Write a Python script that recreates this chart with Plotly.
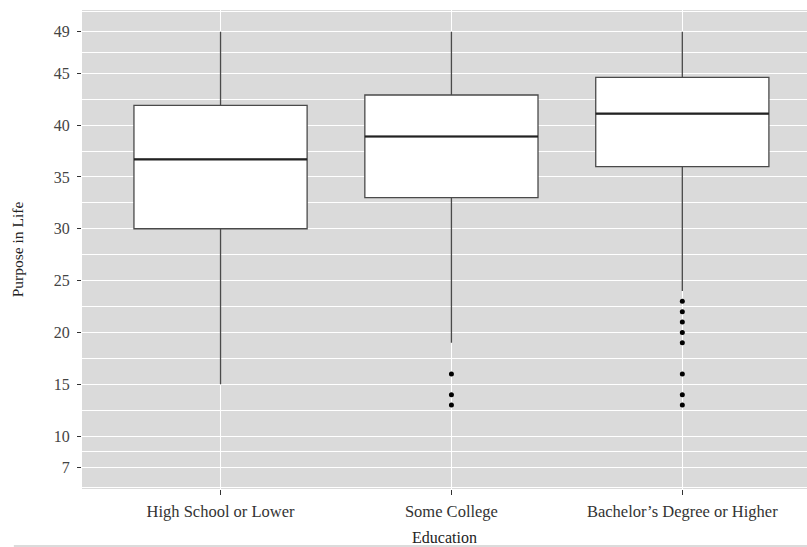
import plotly.graph_objects as go

# Summary statistics of "Purpose in Life" by education level
categories = ["High School or Lower", "Some College", "Bachelor’s Degree or Higher"]
q1 = [30, 33, 36]
median = [36.7, 38.9, 41.1]
q3 = [41.9, 42.9, 44.6]
lower_whisker = [15, 19, 24]
upper_whisker = [49, 49, 49]

# Points beyond the whiskers
outlier_cat = ["Some College"] * 3 + ["Bachelor’s Degree or Higher"] * 8
outlier_val = [16, 14, 13, 23, 22, 21, 20, 19, 16, 14, 13]

y_ticks = [7, 10, 15, 20, 25, 30, 35, 40, 45, 49]
y_minor = [5, 8.5, 12.5, 17.5, 22.5, 27.5, 32.5, 37.5, 42.5, 47, 51]

SERIF = "Liberation Serif, DejaVu Serif, serif"
BOX_LINE = "#4a4a4a"
PANEL = "#dadada"

fig = go.Figure()

fig.add_trace(go.Box(
    x=categories,
    q1=q1, median=median, q3=q3,
    lowerfence=lower_whisker, upperfence=upper_whisker,
    boxpoints=False,
    width=0.75,
    whiskerwidth=0,
    fillcolor="white",
    line=dict(color=BOX_LINE, width=1.3),
    showlegend=False,
    hoverinfo="skip",
))

fig.add_trace(go.Scatter(
    x=outlier_cat, y=outlier_val,
    mode="markers",
    marker=dict(color="black", size=5),
    showlegend=False,
    hoverinfo="skip",
))

# Heavier median bars drawn over each box
for i, m in enumerate(median):
    fig.add_shape(type="line", xref="x", yref="y",
                  x0=i - 0.375, x1=i + 0.375, y0=m, y1=m,
                  line=dict(color="#222222", width=2.2))

# Thin rule along the bottom of the figure
fig.add_shape(type="line", xref="paper", yref="paper",
              x0=-0.094, x1=1.0, y0=-0.119, y1=-0.119,
              line=dict(color="#cfcfcf", width=1.5))

fig.update_layout(
    width=807, height=547,
    margin=dict(l=82, r=0, t=10, b=58),
    paper_bgcolor="white",
    plot_bgcolor=PANEL,
    font=dict(family=SERIF, color="#4d4d4d"),
    xaxis=dict(
        type="category",
        range=[-0.6, 2.54],
        showgrid=True, gridcolor="white", gridwidth=1.3,
        ticks="outside", ticklen=5, tickcolor="#333333", tickwidth=1,
        ticklabelstandoff=2,
        tickfont=dict(size=16.5, color="#333333"),
        title=dict(text="Education", font=dict(size=16, color="#222222"), standoff=12),
        zeroline=False, showline=False,
    ),
    yaxis=dict(
        range=[4.9, 51.1],
        tickvals=y_ticks,
        showgrid=True, gridcolor="white", gridwidth=1.3,
        minor=dict(tickvals=y_minor, showgrid=True, gridcolor="white", gridwidth=0.7, ticks=""),
        ticks="outside", ticklen=4, tickcolor="#333333", tickwidth=1,
        ticklabelstandoff=4,
        tickfont=dict(size=16, color="#444444"),
        title=dict(text="Purpose in Life", font=dict(size=15.5, color="#222222"), standoff=26),
        zeroline=False, showline=False,
    ),
)

fig.write_html("out.html")
